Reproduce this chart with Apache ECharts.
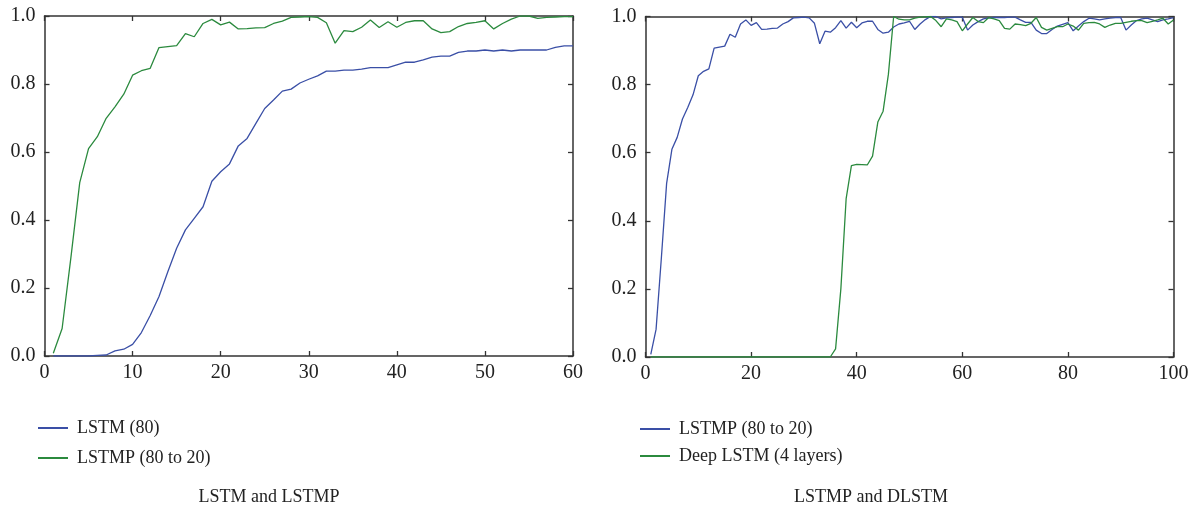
<!DOCTYPE html>
<html><head><meta charset="utf-8">
<script src="https://cdn.jsdelivr.net/npm/echarts@6/dist/echarts.min.js"></script>
<style>html,body{margin:0;padding:0;background:#fff}#c{width:1197px;height:508px}</style>
</head><body><div id="c"></div>
<script>
// Left panel: LSTM and LSTMP (epochs 1..60)
const leftLSTM = [0,0,0,0,0,0.002,0.003,0.015,0.02,0.034,0.069,0.119,0.175,0.248,0.317,0.371,0.405,0.439,0.514,0.542,
  0.565,0.618,0.64,0.684,0.728,0.753,0.779,0.785,0.803,0.814,0.824,0.838,0.838,0.841,0.841,0.844,0.848,0.848,0.848,0.856,
  0.864,0.864,0.871,0.879,0.882,0.882,0.893,0.897,0.897,0.9,0.897,0.9,0.897,0.9,0.9,0.9,0.9,0.908,0.912,0.912];
const leftLSTMP = [0.008,0.081,0.29,0.51,0.61,0.645,0.699,0.733,0.77,0.826,0.839,0.846,0.907,0.91,0.913,0.948,0.939,0.978,0.99,0.974,
  0.982,0.962,0.963,0.965,0.966,0.978,0.985,0.996,0.997,0.998,0.996,0.98,0.92,0.957,0.954,0.967,0.988,0.966,0.983,0.967,
  0.981,0.986,0.986,0.962,0.951,0.954,0.969,0.978,0.981,0.986,0.962,0.978,0.991,1.0,1.0,0.993,0.996,0.997,0.998,0.998];
// Right panel: LSTMP and DLSTM (epochs 1..100)
const rightLSTMP = leftLSTMP.concat([0.96,0.975,0.985,0.993,0.996,0.997,0.997,0.997,0.998,0.998,
  0.99,0.983,0.983,0.96,0.95,0.95,0.962,0.972,0.977,0.982,0.958,0.972,0.985,0.995,0.993,0.99,0.993,0.995,0.997,0.997,
  0.96,0.975,0.988,0.993,0.995,0.99,0.985,0.99,0.993,0.997]);
const rightDLSTM = [0,0,0,0,0,0,0,0,0,0,0,0,0,0,0,0,0,0,0,0,0,0,0,0,0,0,0,0,0,0,0,0,0,0,0,
  0.024,0.2,0.465,0.562,0.566,0.565,0.564,0.59,0.69,0.722,0.83,1.0,0.992,0.99,0.99,
  0.995,0.998,0.999,1.0,0.988,0.97,0.993,0.99,0.985,0.958,0.978,0.997,0.985,0.982,0.997,0.993,0.988,0.965,0.963,0.978,
  0.976,0.973,0.98,0.997,0.968,0.96,0.965,0.97,0.97,0.978,0.972,0.96,0.98,0.982,0.983,0.978,0.968,0.975,0.98,0.98,
  0.983,0.986,0.988,0.988,0.982,0.986,0.99,0.995,0.978,0.99];
const leftNames = ['LSTM (80)','LSTMP (80 to 20)'];
const rightNames = ['LSTMP (80 to 20)','Deep LSTM (4 layers)'];
const captions = ['LSTM and LSTMP','LSTMP and DLSTM'];

const BLUE = '#3a4fa6', GREEN = '#2b8a3e';
const FONT = '"Liberation Serif", "DejaVu Serif", serif';
function pairs(arr){ return arr.map((v,i)=>[i+1,v]); }

const axisLine = {show:true, onZero:false, lineStyle:{color:'#333', width:1.5}};
const lbl = {color:'#222', fontFamily:FONT, fontSize:20};
function xAx(grid, max, interval, pos, showLabel){
  return {type:'value', gridIndex:grid, min:0, max:max, interval:interval, position:pos,
    axisLine:axisLine, axisTick:{show:true, inside:true, length:5, lineStyle:{color:'#333', width:1.3}},
    axisLabel:Object.assign({show:showLabel, margin:7}, lbl), splitLine:{show:false}};
}
function yAx(grid, pos, showLabel){
  return {type:'value', gridIndex:grid, min:0, max:1, interval:0.2, position:pos,
    axisLine:axisLine, axisTick:{show:true, inside:true, length:5, lineStyle:{color:'#333', width:1.3}},
    axisLabel:Object.assign({show:showLabel, margin:9, formatter:v=>v.toFixed(1)}, lbl), splitLine:{show:false}};
}
function line(name, data, color, xi, yi){
  return {type:'line', name:name, data:pairs(data), xAxisIndex:xi, yAxisIndex:yi, showSymbol:false, symbol:'none',
    lineStyle:{color:color, width:1.3}, itemStyle:{color:color}, z:3};
}
const legendText = {fontFamily:FONT, fontSize:18, color:'#222', lineHeight:20, padding:[0,0,0,4]};
// right-panel series get a trailing marker so their names stay distinct from the left panel
const R = '\u200b';

const chart = echarts.init(document.getElementById('c'), null, {renderer:'canvas'});
chart.setOption({
  animation:false,
  backgroundColor:'#fff',
  grid:[
    {left:44.5, right:624, top:16, bottom:152},
    {left:645.5, right:23.5, top:16.5, bottom:151}
  ],
  xAxis:[ xAx(0,60,10,'bottom',true), xAx(0,60,10,'top',false), xAx(1,100,20,'bottom',true), xAx(1,100,20,'top',false) ],
  yAxis:[ yAx(0,'left',true), yAx(0,'right',false), yAx(1,'left',true), yAx(1,'right',false) ],
  legend:[
    {data:leftNames, orient:'vertical', left:38, top:418, padding:0, itemWidth:30, itemHeight:2, itemGap:10,
     icon:'rect', textStyle:legendText},
    {data:rightNames.map(n=>n+R), orient:'vertical', left:640, top:419, padding:0, itemWidth:30, itemHeight:2, itemGap:7,
     icon:'rect', textStyle:legendText, formatter:n=>n.replace(R,'')}
  ],
  series:[
    line(leftNames[0], leftLSTM, BLUE, 0, 0),
    line(leftNames[1], leftLSTMP, GREEN, 0, 0),
    line(rightNames[0]+R, rightLSTMP, BLUE, 2, 2),
    line(rightNames[1]+R, rightDLSTM, GREEN, 2, 2)
  ],
  graphic:[
    {type:'text', x:269, y:497, style:{text:captions[0], font:'18px '+FONT, fill:'#222', textAlign:'center', textVerticalAlign:'middle'}},
    {type:'text', x:871, y:497, style:{text:captions[1], font:'18px '+FONT, fill:'#222', textAlign:'center', textVerticalAlign:'middle'}}
  ]
});
</script></body></html>
